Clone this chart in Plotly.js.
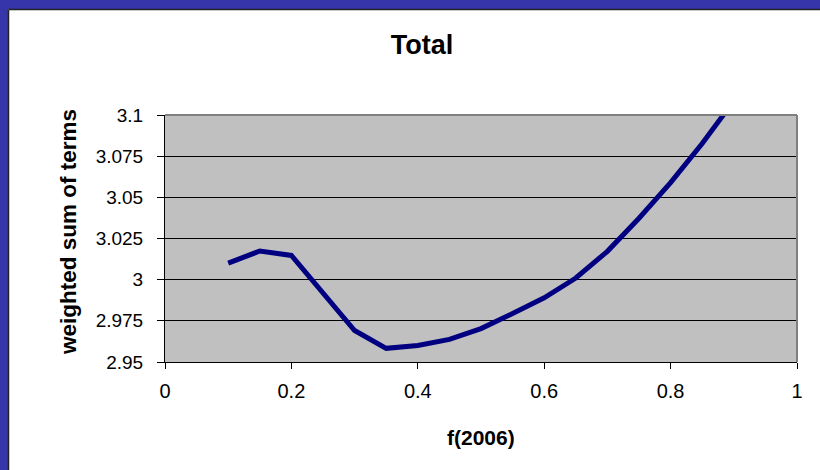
<!DOCTYPE html>
<html>
<head>
<meta charset="utf-8">
<script src="https://cdn.plot.ly/plotly-3.0.1.min.js"></script>
<style>html,body{margin:0;padding:0;background:#fff;}#chart{width:820px;height:470px;}</style>
</head>
<body>
<div id="chart"></div>
<script>
const fValues = [0.1, 0.15, 0.2, 0.25, 0.3, 0.35, 0.4, 0.45, 0.5, 0.55, 0.6, 0.65, 0.7, 0.75, 0.8, 0.85, 0.9];
const weightedSum = [3.0101, 3.0174, 3.0147, 2.9915, 2.9691, 2.9583, 2.9600, 2.9637, 2.9703, 2.9794, 2.9890, 3.0010, 3.0172, 3.0373, 3.0589, 3.0827, 3.1086];
const xTicks = [0, 0.2, 0.4, 0.6, 0.8, 1];
const xTickLabels = ['0', '0.2', '0.4', '0.6', '0.8', '1'];
const yTicks = [2.95, 2.975, 3, 3.025, 3.05, 3.075, 3.1];
const yTickLabels = ['2.95', '2.975', '3', '3.025', '3.05', '3.075', '3.1'];

const FONT = 'Liberation Sans, Arial, sans-serif';
const BLUE = '#3636aa';

const trace = {
  x: fValues, y: weightedSum, type: 'scatter', mode: 'lines',
  line: {color: '#000080', width: 5}, hoverinfo: 'skip', showlegend: false
};

const layout = {
  width: 820, height: 470,
  margin: {l: 165, r: 23, t: 115, b: 108},
  paper_bgcolor: '#ffffff',
  plot_bgcolor: '#c0c0c0',
  font: {family: FONT, color: '#000', size: 20},
  title: {text: '<b>Total</b>', font: {family: FONT, size: 27, color: '#000'},
          xref: 'container', x: 422/820, xanchor: 'center', yref: 'container', y: 1 - 45/470, yanchor: 'middle'},
  xaxis: {range: [0, 1], tickvals: xTicks, ticktext: xTickLabels, ticks: 'outside', ticklen: 6, tickcolor: '#000',
          showline: true, linecolor: '#000', linewidth: 1, showgrid: false, zeroline: false,
          tickfont: {size: 20, family: FONT}, ticklabelstandoff: 5, fixedrange: true},
  yaxis: {range: [2.95, 3.1], tickvals: yTicks, ticktext: yTickLabels, ticks: 'outside', ticklen: 7, tickcolor: '#000',
          showline: true, linecolor: '#000', linewidth: 1, showgrid: true, gridcolor: '#000', gridwidth: 1, zeroline: false,
          tickfont: {size: 19, family: FONT}, ticklabelstandoff: 10, fixedrange: true},
  annotations: [
    {text: '<b>f(2006)</b>', xref: 'paper', yref: 'paper', x: 0.5, y: (362-437)/247, xanchor: 'center', yanchor: 'middle',
     showarrow: false, font: {family: FONT, size: 21, color: '#000'}},
    {text: '<b>weighted sum of terms</b>', xref: 'paper', yref: 'paper', x: (68-165)/632, y: (362-232)/247, xanchor: 'center', yanchor: 'middle',
     textangle: -90, showarrow: false, font: {family: FONT, size: 22.5, color: '#000'}}
  ],
  shapes: [
    {type: 'line', xref: 'paper', yref: 'paper', x0: 0, x1: 1, y0: 1, y1: 1, line: {color: '#808080', width: 2}, layer: 'above'},
    {type: 'line', xref: 'paper', yref: 'paper', x0: 1, x1: 1, y0: 0, y1: 1, line: {color: '#808080', width: 2}, layer: 'above'},
    {type: 'rect', xref: 'paper', yref: 'paper', x0: -0.3, x1: 1.1, y0: (362-9)/247, y1: 2.2, fillcolor: BLUE, line: {width: 0}, layer: 'above'},
    {type: 'rect', xref: 'paper', yref: 'paper', x0: -0.3, x1: (8-165)/632, y0: -0.5, y1: 2.2, fillcolor: BLUE, line: {width: 0}, layer: 'above'},
    {type: 'line', xref: 'paper', yref: 'paper', x0: (8.5-165)/632, x1: 1.1, y0: (362-9.5)/247, y1: (362-9.5)/247, line: {color: '#222', width: 1.5}, layer: 'above'},
    {type: 'line', xref: 'paper', yref: 'paper', x0: (8.5-165)/632, x1: (8.5-165)/632, y0: -0.5, y1: (362-9.5)/247, line: {color: '#222', width: 1.5}, layer: 'above'}
  ]
};

Plotly.newPlot('chart', [trace], layout, {staticPlot: true, displayModeBar: false});
</script>
</body>
</html>
